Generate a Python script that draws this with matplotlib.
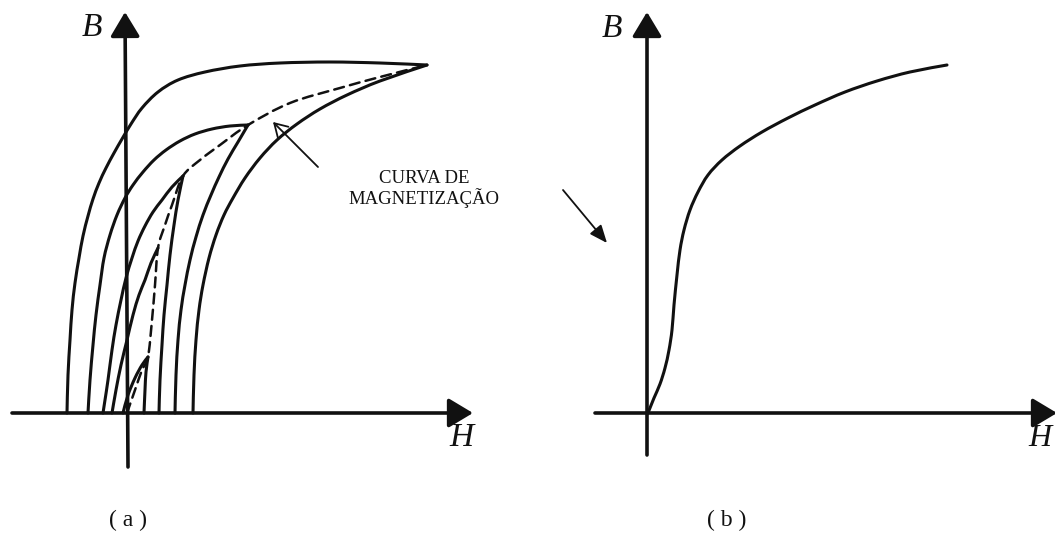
import numpy as np
import matplotlib
matplotlib.use("Agg")
import matplotlib.pyplot as plt
from matplotlib.path import Path
from matplotlib.patches import PathPatch, FancyArrowPatch

# ---------------- data: panel (a), hysteresis loops (H, B) ----------------
outer_desc_h = [3.00, 2.53, 2.03, 1.53, 1.13, 0.78, 0.51, 0.31, 0.15, 0.04, -0.05, -0.13,
                -0.21, -0.28, -0.34, -0.39, -0.44, -0.48, -0.52, -0.55, -0.57, -0.59, -0.60]
outer_desc_b = [3.48, 3.50, 3.51, 3.50, 3.47, 3.41, 3.33, 3.21, 3.05, 2.89, 2.74, 2.60,
                2.45, 2.30, 2.14, 1.97, 1.77, 1.55, 1.30, 1.03, 0.73, 0.38, 0.00]
outer_asc_h = [0.66, 0.67, 0.69, 0.72, 0.76, 0.82, 0.89, 0.97, 1.06, 1.18, 1.33, 1.50,
               1.70, 1.93, 2.20, 2.53, 3.00]
outer_asc_b = [0.00, 0.38, 0.73, 1.03, 1.28, 1.55, 1.78, 1.98, 2.15, 2.35, 2.55, 2.73,
               2.89, 3.04, 3.18, 3.32, 3.48]

loop2_desc_h = [1.21, 1.03, 0.85, 0.68, 0.53, 0.39, 0.27, 0.16, 0.06, -0.02, -0.10, -0.17,
                -0.23, -0.27, -0.31, -0.34, -0.37, -0.39]
loop2_desc_b = [2.88, 2.87, 2.84, 2.79, 2.72, 2.63, 2.53, 2.41, 2.28, 2.15, 1.98, 1.78,
                1.55, 1.28, 0.98, 0.68, 0.33, 0.00]
loop2_asc_h = [0.48, 0.49, 0.51, 0.54, 0.58, 0.63, 0.69, 0.76, 0.84, 0.92, 1.01, 1.11, 1.21]
loop2_asc_b = [0.00, 0.38, 0.73, 1.03, 1.28, 1.53, 1.76, 1.98, 2.18, 2.36, 2.54, 2.71, 2.88]

loop3_desc_h = [0.56, 0.45, 0.35, 0.26, 0.18, 0.11, 0.05, -0.01, -0.06, -0.11, -0.15,
                -0.19, -0.22, -0.24]
loop3_desc_b = [2.37, 2.26, 2.13, 2.01, 1.87, 1.72, 1.55, 1.35, 1.13, 0.88, 0.63,
                0.33, 0.13, 0.00]
loop3_asc_h = [0.32, 0.33, 0.35, 0.37, 0.40, 0.43, 0.47, 0.51, 0.56]
loop3_asc_b = [0.00, 0.33, 0.68, 0.98, 1.28, 1.58, 1.88, 2.13, 2.37]

loop4_desc_h = [-0.15, -0.11, -0.06, 0.00, 0.06, 0.12, 0.18, 0.24, 0.31]
loop4_desc_b = [0.00, 0.23, 0.48, 0.73, 0.98, 1.18, 1.33, 1.50, 1.65]

loop5_desc_h = [-0.04, 0.01, 0.08, 0.15, 0.21]
loop5_desc_b = [0.00, 0.18, 0.35, 0.48, 0.56]
loop5_asc_h = [0.17, 0.18, 0.19, 0.21]
loop5_asc_b = [0.00, 0.23, 0.41, 0.56]

# initial magnetization curve (dashed) through the loop tips
magn_h = [0.00, 0.08, 0.15, 0.21, 0.25, 0.28, 0.31, 0.38, 0.45, 0.56, 0.73, 0.93, 1.21,
          1.63, 2.13, 2.53, 3.00]
magn_b = [0.00, 0.23, 0.43, 0.56, 0.93, 1.28, 1.65, 1.88, 2.08, 2.37, 2.53, 2.68, 2.88,
          3.10, 3.25, 3.36, 3.48]

# ---------------- data: panel (b), magnetization curve ----------------
curve_b_h = [0.00, 0.06, 0.12, 0.17, 0.21, 0.24, 0.26, 0.29, 0.32, 0.36, 0.42, 0.50,
             0.60, 0.74, 0.92, 1.14, 1.40, 1.67, 1.97, 2.29, 2.62, 2.99]
curve_b_b = [0.00, 0.15, 0.29, 0.45, 0.63, 0.83, 1.08, 1.38, 1.63, 1.83, 2.03, 2.21,
             2.38, 2.53, 2.67, 2.81, 2.95, 3.08, 3.21, 3.32, 3.41, 3.48]

label_curve = "CURVA DE\nMAGNETIZAÇÃO"
panel_labels = ["( a )", "( b )"]

SERIF = ["Liberation Serif", "DejaVu Serif"]
INK = "#111111"


def smooth_path(h, b):
    """Catmull-Rom curve through the given points, as cubic Bezier segments."""
    p = np.column_stack([h, b]).astype(float)
    n = len(p)
    verts = [p[0]]
    codes = [Path.MOVETO]
    for i in range(n - 1):
        p0 = p[i - 1] if i > 0 else p[i]
        p1 = p[i]
        p2 = p[i + 1]
        p3 = p[i + 2] if i + 2 < n else p[i + 1]
        c1 = p1 + (p2 - p0) / 6.0
        c2 = p2 - (p3 - p1) / 6.0
        verts += [c1, c2, p2]
        codes += [Path.CURVE4] * 3
    return Path(verts, codes)


def draw_curve(ax, h, b, lw=2.2, ls="-"):
    patch = PathPatch(smooth_path(h, b), fill=False, edgecolor=INK, lw=lw,
                      linestyle=ls, capstyle="round", joinstyle="round",
                      clip_on=False)
    ax.add_patch(patch)


def axis_arrow(ax, start, end):
    arr = FancyArrowPatch(start, end, arrowstyle="-|>,head_length=0.75,head_width=0.45",
                          mutation_scale=20, lw=2.6, color=INK,
                          shrinkA=0, shrinkB=0, clip_on=False)
    ax.add_patch(arr)


fig = plt.figure(figsize=(10.55, 5.48), dpi=100)
fig.patch.set_facecolor("white")

# one unit of H or B spans 100 px in both panels
ax_a = fig.add_axes([0.0, 0.0, 530 / 1055, 1.0])
ax_a.set_xlim(-1.27, 4.03)
ax_a.set_ylim(-1.35, 4.13)
ax_b = fig.add_axes([530 / 1055, 0.0, 525 / 1055, 1.0])
ax_b.set_xlim(-1.18, 4.07)
ax_b.set_ylim(-1.35, 4.13)
for ax in (ax_a, ax_b):
    ax.set_axis_off()

# ---- panel (a) ----
axis_arrow(ax_a, (-1.15, 0.0), (3.46, 0.0))
axis_arrow(ax_a, (0.01, -0.54), (-0.02, 4.01))

for h, b in [(outer_desc_h, outer_desc_b), (outer_asc_h, outer_asc_b),
             (loop2_desc_h, loop2_desc_b), (loop2_asc_h, loop2_asc_b),
             (loop3_desc_h, loop3_desc_b), (loop3_asc_h, loop3_asc_b),
             (loop4_desc_h, loop4_desc_b),
             (loop5_desc_h, loop5_desc_b), (loop5_asc_h, loop5_asc_b)]:
    draw_curve(ax_a, h, b)
draw_curve(ax_a, magn_h, magn_b, lw=1.8, ls=(0, (4, 2.5)))

ax_a.text(-0.35, 3.85, "B", family=SERIF, style="italic", fontsize=24,
          ha="center", va="center", color=INK)
ax_a.text(3.34, -0.25, "H", family=SERIF, style="italic", fontsize=24,
          ha="center", va="center", color=INK)
ax_a.text(0.01, -1.07, panel_labels[0], family=SERIF, fontsize=17,
          ha="center", va="center", color=INK)

ax_a.text(2.97, 2.24, label_curve, family=SERIF, fontsize=13.5, ha="center",
          va="center", multialignment="center", linespacing=1.1, color=INK,
          clip_on=False)
ax_a.add_patch(FancyArrowPatch((1.91, 2.46), (1.46, 2.91),
                               arrowstyle="->,head_length=0.5,head_width=0.3",
                               mutation_scale=18, lw=1.3, color=INK,
                               shrinkA=0, shrinkB=0, clip_on=False))

# ---- panel (b) ----
axis_arrow(ax_b, (-0.53, 0.0), (4.09, 0.0))
axis_arrow(ax_b, (-0.01, -0.42), (-0.01, 4.01))
draw_curve(ax_b, curve_b_h, curve_b_b)

ax_b.text(-0.36, 3.84, "B", family=SERIF, style="italic", fontsize=24,
          ha="center", va="center", color=INK)
ax_b.text(3.92, -0.25, "H", family=SERIF, style="italic", fontsize=23,
          ha="center", va="center", color=INK, clip_on=False)
ax_b.text(0.79, -1.07, panel_labels[1], family=SERIF, fontsize=17,
          ha="center", va="center", color=INK)
ax_b.add_patch(FancyArrowPatch((-0.85, 2.23), (-0.41, 1.70),
                               arrowstyle="-|>,head_length=0.6,head_width=0.25",
                               mutation_scale=18, lw=1.3, color=INK,
                               shrinkA=0, shrinkB=0, clip_on=False))

fig.savefig("out.png", dpi=100, facecolor="white")
